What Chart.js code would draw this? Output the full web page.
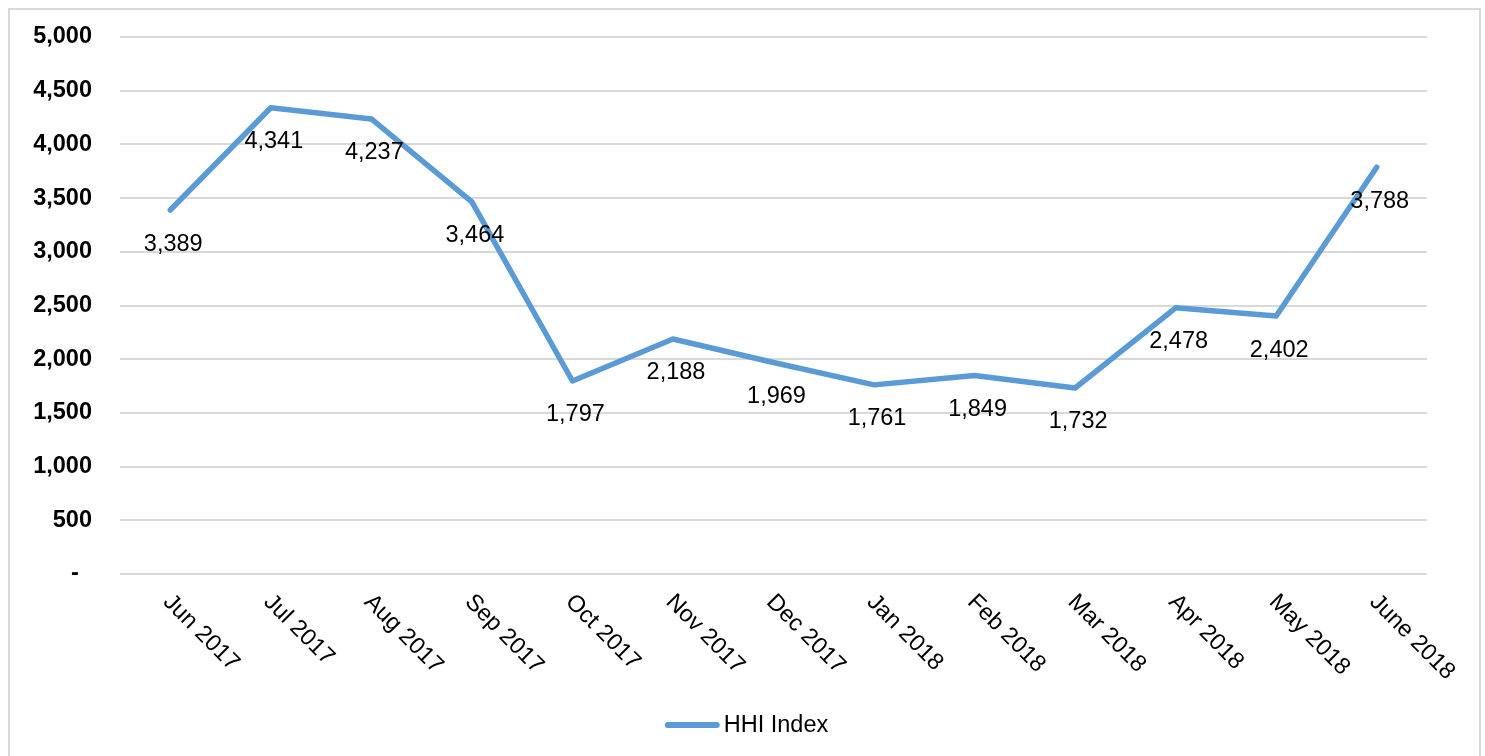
<!DOCTYPE html>
<html>
<head>
<meta charset="utf-8">
<script src="https://cdn.jsdelivr.net/npm/chart.js@4.4.1/dist/chart.umd.min.js"></script>
<style>
  html, body { margin: 0; padding: 0; background: #ffffff; }
  #wrap { width: 1485px; height: 756px; position: relative; }
</style>
</head>
<body>
<div id="wrap"><canvas id="hhi" width="1485" height="756"></canvas></div>
<script>
// Monthly HHI index, June 2017 – June 2018
const months = ['Jun 2017', 'Jul 2017', 'Aug 2017', 'Sep 2017', 'Oct 2017', 'Nov 2017', 'Dec 2017',
                'Jan 2018', 'Feb 2018', 'Mar 2018', 'Apr 2018', 'May 2018', 'June 2018'];
const hhiValues = [3389, 4341, 4237, 3464, 1797, 2188, 1969, 1761, 1849, 1732, 2478, 2402, 3788];
const seriesName = 'HHI Index';
const yTickStep = 500;
const yMax = 5000;

const FONT = '"Liberation Sans", Arial, sans-serif';
const LINE_COLOR = '#5B9BD5';

const fmt = v => v.toLocaleString('en-US');

// Frame, rotated month labels, value labels and legend
const decorations = {
  id: 'decorations',
  beforeDraw(chart) {
    const ctx = chart.ctx;
    ctx.save();
    ctx.fillStyle = '#ffffff';
    ctx.fillRect(0, 0, chart.width, chart.height);
    ctx.strokeStyle = '#d9d9d9';
    ctx.lineWidth = 2;
    ctx.strokeRect(9, 9, 1471, 770);
    ctx.restore();
  },
  afterDatasetsDraw(chart) {
    const ctx = chart.ctx;
    const xScale = chart.scales.x;
    const area = chart.chartArea;

    // month labels, rotated 45° clockwise
    ctx.save();
    ctx.fillStyle = '#000000';
    ctx.font = '23.5px ' + FONT;
    ctx.textAlign = 'left';
    ctx.textBaseline = 'alphabetic';
    months.forEach((m, i) => {
      const x = xScale.getPixelForValue(i);
      ctx.save();
      ctx.translate(x - 8, area.bottom + 29);
      ctx.rotate(Math.PI / 4);
      ctx.fillText(m, 0, 0);
      ctx.restore();
    });
    ctx.restore();

    // value labels below each point
    const meta = chart.getDatasetMeta(0);
    ctx.save();
    ctx.fillStyle = '#000000';
    ctx.font = '23.5px ' + FONT;
    ctx.textAlign = 'center';
    ctx.textBaseline = 'middle';
    meta.data.forEach((pt, i) => {
      ctx.fillText(fmt(hhiValues[i]), pt.x + 3, pt.y + 34);
    });
    ctx.restore();

    // legend
    const ds = chart.data.datasets[0];
    const cx = chart.width / 2;
    ctx.save();
    ctx.font = '23.5px ' + FONT;
    const tw = ctx.measureText(ds.label).width;
    const lineLen = 55, gap = 4;
    const startX = cx - (lineLen + gap + tw) / 2 + 4;
    const ly = 725;
    ctx.strokeStyle = ds.borderColor;
    ctx.lineWidth = 6;
    ctx.lineCap = 'round';
    ctx.beginPath();
    ctx.moveTo(startX + 3, ly);
    ctx.lineTo(startX + lineLen - 3, ly);
    ctx.stroke();
    ctx.fillStyle = '#000000';
    ctx.textAlign = 'left';
    ctx.textBaseline = 'middle';
    ctx.fillText(ds.label, startX + lineLen + gap, ly + 1);
    ctx.restore();
  }
};

new Chart(document.getElementById('hhi'), {
  type: 'line',
  data: {
    labels: months,
    datasets: [{
      label: seriesName,
      data: hhiValues,
      borderColor: LINE_COLOR,
      backgroundColor: LINE_COLOR,
      borderWidth: 5.5,
      borderCapStyle: 'round',
      borderJoinStyle: 'round',
      pointRadius: 0,
      pointHoverRadius: 0,
      tension: 0,
      fill: false
    }]
  },
  options: {
    responsive: false,
    animation: false,
    events: [],
    layout: { padding: { left: 0, top: 37, right: 58, bottom: 0 } },
    plugins: {
      legend: { display: false },
      tooltip: { enabled: false },
      title: { display: false }
    },
    scales: {
      x: {
        type: 'category',
        offset: true,
        grid: { display: false },
        border: { display: false },
        ticks: { display: false },
        afterFit(scale) { scale.height = 182; }
      },
      y: {
        min: 0,
        max: yMax,
        grid: { color: '#d9d9d9', lineWidth: 2, drawTicks: false },
        border: { display: false },
        ticks: {
          stepSize: yTickStep,
          padding: 28,
          color: '#000000',
          font: { family: FONT, size: 23.5, weight: 'bold' },
          callback: v => (v === 0 ? '-  ' : fmt(v))
        },
        afterFit(scale) {
          scale.width = 120;
          scale.paddingTop = 0;
          scale.paddingBottom = 0;
        }
      }
    }
  },
  plugins: [decorations]
});
</script>
</body>
</html>
